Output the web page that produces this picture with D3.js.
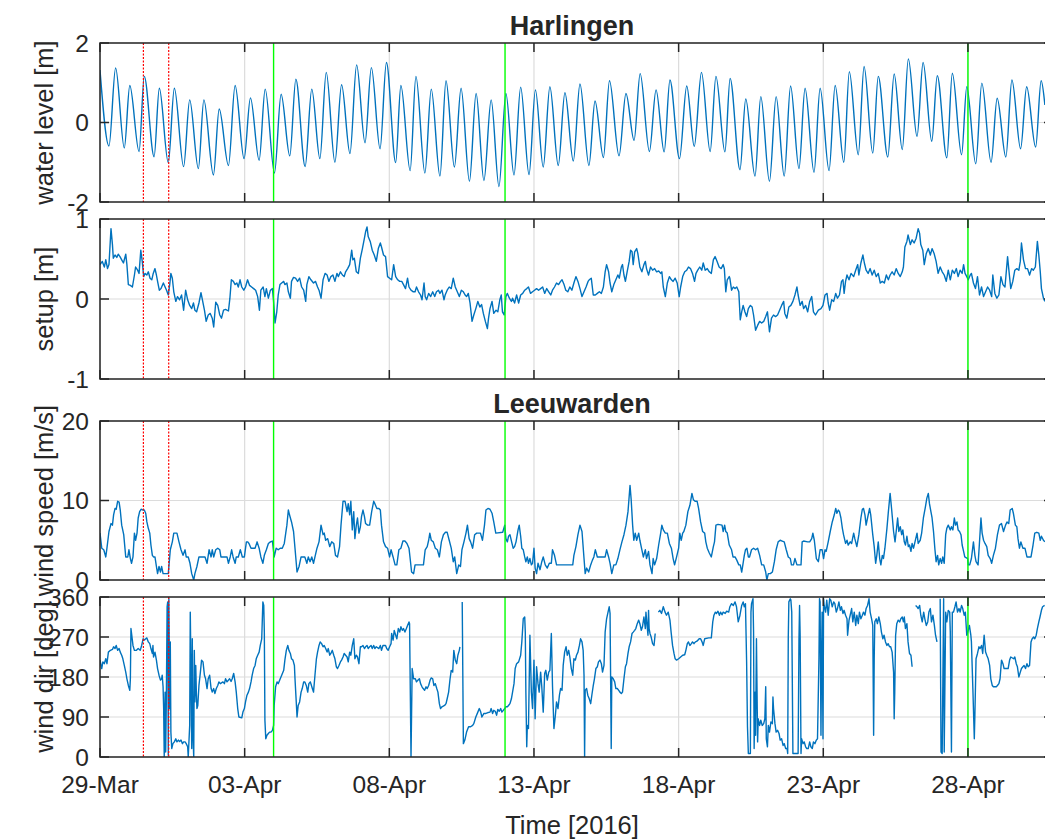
<!DOCTYPE html>
<html>
<head>
<meta charset="utf-8">
<script src="https://cdn.jsdelivr.net/npm/d3@7"></script>
<style>
  html, body { margin: 0; padding: 0; background: #fff; }
  svg { display: block; }
  text { font-family: "Liberation Sans", Arial, Helvetica, sans-serif; fill: #262626; }
</style>
</head>
<body>
<div id="chart"></div>
<script>
// ---- data (days since 29-Mar-2016 00:00 UTC, value) ----
// water level extremes at Harlingen [m]
var waterLevel = [[0.00,1.32],[0.31,-0.59],[0.54,1.37],[0.84,-0.64],[1.03,0.93],[1.35,-0.73],[1.53,1.16],[1.87,-0.86],[2.05,0.86],[2.36,-1.01],[2.57,0.86],[2.89,-1.11],[3.10,0.57],[3.40,-1.16],[3.59,0.57],[3.92,-1.32],[4.12,0.34],[4.44,-1.08],[4.67,0.93],[4.98,-0.91],[5.20,0.62],[5.50,-0.95],[5.71,0.84],[6.03,-1.27],[6.26,0.71],[6.56,-0.84],[6.77,1.09],[7.09,-1.11],[7.32,0.84],[7.60,-0.91],[7.82,1.26],[8.12,-1.00],[8.35,0.95],[8.64,-0.78],[8.87,1.45],[9.16,-0.51],[9.38,1.38],[9.68,-0.66],[9.90,1.51],[10.22,-1.01],[10.40,0.93],[10.72,-1.21],
  [10.92,1.16],[11.23,-1.27],[11.45,0.84],[11.75,-1.35],[11.96,1.05],[12.25,-1.12],[12.48,0.86],[12.77,-1.48],[13.00,0.73],[13.27,-1.46],[13.52,0.57],[13.79,-1.61],[14.03,0.73],[14.31,-1.32],[14.54,0.89],[14.83,-1.31],[15.05,0.82],[15.32,-1.12],[15.55,0.90],[15.84,-1.08],[16.07,0.75],[16.36,-0.97],[16.59,0.97],[16.90,-1.08],[17.11,0.54],[17.40,-0.88],[17.61,1.05],[17.94,-0.84],[18.18,0.73],[18.46,-0.45],[18.67,1.23],[18.99,-0.73],[19.22,0.82],[19.50,-0.74],[19.70,1.07],[20.03,-0.91],[20.28,0.92],[20.54,-0.60],[20.79,1.26],[21.09,-0.73],[21.29,1.16],[21.60,-0.74],
  [21.78,1.11],[22.12,-1.19],[22.32,0.59],[22.64,-1.35],[22.84,0.65],[23.14,-1.48],[23.37,0.65],[23.65,-1.35],[23.87,0.92],[24.16,-1.16],[24.37,0.86],[24.68,-1.25],[24.89,0.86],[25.20,-1.21],[25.41,0.93],[25.71,-1.00],[25.90,1.28],[26.21,-0.81],[26.41,1.41],[26.71,-0.77],[26.90,1.16],[27.23,-0.87],[27.45,1.22],[27.73,-0.68],[27.94,1.60],[28.24,-0.35],[28.45,1.51],[28.75,-0.47],[28.94,1.18],[29.27,-0.89],[29.46,1.24],[29.78,-0.81],[29.96,0.90],[30.27,-1.04],[30.48,0.99],[30.80,-1.00],[31.01,0.61],[31.31,-0.87],[31.52,1.07],[31.82,-0.66],[32.03,0.90],[32.34,-0.62],[32.53,1.05],[32.66,0.44]];

// setup at Harlingen [m]
var setup = [[0.00,0.43],[0.08,0.47],[0.15,0.40],[0.20,0.49],[0.26,0.38],[0.31,0.43],[0.38,0.88],[0.43,0.68],[0.46,0.51],[0.52,0.55],[0.58,0.52],[0.63,0.56],[0.69,0.53],[0.75,0.49],[0.81,0.45],[0.89,0.56],[0.93,0.43],[0.98,0.18],[1.05,0.17],[1.12,0.15],[1.19,0.30],[1.23,0.40],[1.30,0.36],[1.35,0.32],[1.41,0.61],[1.46,0.47],[1.51,0.28],[1.56,0.32],[1.62,0.30],[1.67,0.34],[1.73,0.26],[1.79,0.24],[1.84,0.32],[1.90,0.38],[1.95,0.30],[1.99,0.22],[2.05,0.11],[2.11,0.13],[2.19,0.20],[2.25,0.15],[2.30,0.11],[2.36,0.05],[2.41,0.18],[2.45,0.32],[2.50,0.26],[2.55,0.09],[2.62,-0.03],[2.68,0.03],[2.75,-0.01],[2.82,0.05],[2.89,-0.14],[2.96,0.11],[3.03,-0.01],[3.10,-0.08],[3.17,-0.12],[3.23,-0.05],[3.28,-0.14],[3.34,-0.16],[3.42,-0.05],[3.49,0.08],[3.54,-0.01],[3.61,-0.14],[3.67,-0.28],[3.74,-0.20],[3.81,-0.18],[3.88,-0.24],[3.93,-0.35],[4.00,-0.04],[4.07,-0.08],[4.14,-0.20],[4.20,-0.24],[4.27,-0.14],[4.34,-0.13],[4.44,-0.15],[4.49,0.01],[4.54,0.24],[4.61,0.22],[4.67,0.18],[4.73,0.20],[4.78,0.15],[4.84,0.24],[4.90,0.15],[4.97,0.11],[5.03,0.15],[5.10,0.24],[5.17,0.17],[5.24,0.15],[5.31,0.13],[5.38,0.11],[5.45,0.03],[5.51,-0.14],[5.56,0.11],[5.64,0.15],[5.70,0.03],[5.75,0.13],[5.82,0.01],[5.89,0.11],[5.96,0.13],[6.00,-0.03],[6.05,-0.30],[6.11,-0.16],[6.16,0.05],[6.22,0.18],[6.28,0.20],[6.35,0.22],[6.39,0.18],[6.46,0.20],[6.51,0.09],[6.58,0.01],[6.62,0.22],[6.69,0.27],[6.76,0.26],[6.83,0.22],[6.90,0.26],[6.97,0.15],[7.04,0.11],[7.11,-0.03],[7.15,0.18],[7.22,0.28],[7.29,0.24],[7.38,0.20],[7.45,0.22],[7.52,0.15],[7.57,0.11],[7.64,0.01],[7.71,0.24],[7.78,0.32],[7.85,0.30],[7.91,0.22],[7.98,0.28],[8.05,0.30],[8.12,0.22],[8.19,0.32],[8.24,0.28],[8.31,0.34],[8.38,0.30],[8.44,0.28],[8.49,0.34],[8.56,0.38],[8.63,0.43],[8.70,0.61],[8.74,0.49],[8.79,0.51],[8.86,0.34],[8.93,0.32],[9.00,0.51],[9.07,0.63],[9.14,0.76],[9.18,0.84],[9.23,0.90],[9.27,0.78],[9.34,0.72],[9.41,0.61],[9.48,0.55],[9.55,0.47],[9.62,0.63],[9.69,0.70],[9.73,0.65],[9.80,0.55],[9.87,0.53],[9.94,0.28],[10.01,0.26],[10.08,0.24],[10.15,0.43],[10.22,0.28],[10.29,0.24],[10.36,0.22],[10.43,0.22],[10.49,0.18],[10.56,0.13],[10.63,0.26],[10.68,0.15],[10.75,0.11],[10.83,0.09],
  [10.89,0.09],[10.94,0.15],[11.01,0.09],[11.08,0.05],[11.13,-0.01],[11.20,0.20],[11.24,0.03],[11.29,-0.01],[11.36,0.07],[11.43,0.03],[11.50,0.09],[11.57,0.03],[11.63,0.09],[11.70,0.11],[11.75,0.07],[11.82,0.11],[11.89,-0.01],[11.93,0.05],[12.00,0.11],[12.07,0.15],[12.14,0.13],[12.21,0.26],[12.28,0.15],[12.35,0.09],[12.42,0.03],[12.49,0.11],[12.56,0.09],[12.62,0.05],[12.67,0.03],[12.73,0.07],[12.79,-0.05],[12.86,-0.28],[12.92,-0.20],[12.99,-0.12],[13.06,-0.03],[13.13,-0.10],[13.19,-0.07],[13.25,-0.18],[13.32,-0.28],[13.39,-0.37],[13.43,-0.24],[13.48,-0.12],[13.55,-0.03],[13.61,-0.18],[13.69,-0.14],[13.75,-0.16],[13.82,-0.01],[13.87,0.05],[13.91,-0.16],[13.97,-0.20],[14.03,0.03],[14.08,0.07],[14.15,0.01],[14.22,-0.03],[14.26,0.01],[14.33,-0.05],[14.40,0.05],[14.47,-0.05],[14.54,0.05],[14.61,0.07],[14.68,0.11],[14.75,0.13],[14.81,0.15],[14.88,0.07],[14.95,0.09],[15.02,0.11],[15.09,0.13],[15.16,0.11],[15.23,0.13],[15.30,0.15],[15.37,0.07],[15.44,0.13],[15.51,0.09],[15.58,0.05],[15.64,0.11],[15.71,0.15],[15.78,0.20],[15.85,0.18],[15.92,0.22],[15.97,0.24],[16.04,0.18],[16.10,0.11],[16.17,0.09],[16.24,0.15],[16.31,0.11],[16.38,0.20],[16.45,0.28],[16.52,0.22],[16.59,0.13],[16.66,0.03],[16.73,0.09],[16.80,0.15],[16.87,0.22],[16.91,0.24],[16.98,0.26],[17.05,0.05],[17.12,0.05],[17.19,0.07],[17.26,0.09],[17.33,0.07],[17.40,0.15],[17.46,0.34],[17.51,0.43],[17.58,0.34],[17.63,0.20],[17.69,0.09],[17.76,0.18],[17.83,0.24],[17.90,0.30],[17.95,0.26],[18.02,0.40],[18.06,0.43],[18.11,0.30],[18.16,0.22],[18.22,0.34],[18.29,0.47],[18.34,0.61],[18.39,0.59],[18.43,0.43],[18.48,0.59],[18.55,0.63],[18.59,0.57],[18.66,0.40],[18.73,0.34],[18.80,0.43],[18.85,0.47],[18.89,0.38],[18.96,0.30],[19.03,0.40],[19.10,0.36],[19.17,0.38],[19.24,0.34],[19.31,0.35],[19.38,0.32],[19.42,0.34],[19.47,0.15],[19.54,0.03],[19.61,0.20],[19.68,0.28],[19.75,0.24],[19.81,0.22],[19.88,0.26],[19.95,0.20],[20.02,0.03],[20.07,0.15],[20.14,0.28],[20.21,0.34],[20.28,0.36],[20.34,0.40],[20.41,0.38],[20.48,0.32],[20.55,0.22],[20.60,0.32],[20.66,0.36],[20.73,0.40],[20.80,0.36],[20.85,0.45],[20.92,0.36],[20.99,0.38],[21.06,0.34],[21.13,0.32],[21.20,0.49],[21.26,0.53],[21.33,0.47],[21.40,0.40],[21.47,0.38],[21.54,0.43],[21.58,0.38],[21.63,0.09],[21.68,0.24],[21.75,0.28],
  [21.77,0.26],[21.83,0.11],[21.89,0.15],[21.95,0.13],[22.01,0.15],[22.08,0.09],[22.13,-0.26],[22.18,-0.16],[22.23,-0.08],[22.29,-0.16],[22.35,-0.22],[22.41,-0.12],[22.48,-0.08],[22.54,-0.10],[22.59,-0.20],[22.66,-0.39],[22.73,-0.33],[22.80,-0.28],[22.87,-0.30],[22.94,-0.28],[23.01,-0.22],[23.07,-0.16],[23.14,-0.41],[23.21,-0.24],[23.28,-0.20],[23.35,-0.22],[23.42,-0.20],[23.49,-0.14],[23.56,-0.08],[23.63,-0.03],[23.67,-0.18],[23.74,-0.24],[23.81,-0.10],[23.88,-0.08],[23.95,-0.03],[24.02,0.05],[24.09,0.15],[24.13,0.05],[24.20,-0.08],[24.27,-0.03],[24.32,-0.12],[24.39,-0.08],[24.46,-0.16],[24.53,-0.03],[24.60,0.03],[24.66,-0.16],[24.73,-0.20],[24.83,-0.14],[24.92,-0.12],[24.99,-0.08],[25.06,0.05],[25.13,0.07],[25.17,-0.05],[25.22,-0.14],[25.29,-0.01],[25.36,-0.03],[25.43,0.07],[25.49,0.01],[25.56,0.05],[25.63,0.22],[25.68,0.24],[25.72,0.07],[25.77,0.22],[25.82,0.30],[25.89,0.24],[25.96,0.32],[26.05,0.28],[26.12,0.36],[26.19,0.43],[26.23,0.30],[26.30,0.45],[26.37,0.55],[26.42,0.45],[26.48,0.36],[26.55,0.32],[26.62,0.38],[26.69,0.30],[26.76,0.36],[26.83,0.28],[26.90,0.32],[26.97,0.20],[27.04,0.22],[27.11,0.20],[27.18,0.30],[27.25,0.24],[27.31,0.30],[27.38,0.34],[27.45,0.30],[27.52,0.38],[27.59,0.32],[27.66,0.28],[27.73,0.34],[27.77,0.40],[27.82,0.65],[27.89,0.72],[27.93,0.80],[28.01,0.68],[28.07,0.74],[28.14,0.70],[28.21,0.76],[28.28,0.88],[28.33,0.82],[28.37,0.68],[28.44,0.61],[28.49,0.43],[28.56,0.57],[28.63,0.63],[28.70,0.55],[28.76,0.63],[28.83,0.57],[28.90,0.47],[28.97,0.32],[29.04,0.40],[29.11,0.34],[29.18,0.30],[29.25,0.22],[29.32,0.36],[29.39,0.24],[29.46,0.36],[29.53,0.32],[29.60,0.38],[29.66,0.28],[29.73,0.36],[29.80,0.32],[29.85,0.43],[29.90,0.32],[29.96,0.28],[30.01,0.24],[30.08,0.30],[30.12,0.32],[30.19,0.20],[30.26,0.13],[30.33,0.28],[30.40,0.05],[30.47,0.15],[30.54,0.03],[30.61,0.09],[30.68,0.15],[30.75,0.11],[30.82,0.03],[30.86,0.30],[30.93,0.07],[31.00,0.01],[31.07,0.05],[31.14,0.28],[31.21,0.18],[31.28,0.15],[31.37,0.53],[31.41,0.38],[31.48,0.13],[31.55,0.22],[31.62,0.36],[31.69,0.38],[31.76,0.36],[31.81,0.47],[31.85,0.70],[31.92,0.49],[31.99,0.38],[32.06,0.38],[32.13,0.30],[32.20,0.38],[32.26,0.36],[32.33,0.40],[32.40,0.72],[32.45,0.55],[32.50,0.34],[32.54,0.13],[32.61,0.01],[32.66,-0.03]];

// wind speed at Leeuwarden [m/s]
var windSpeed = [[0.00,5.9],[0.06,4.0],[0.13,3.8],[0.20,2.9],[0.24,4.0],[0.31,6.1],[0.38,7.1],[0.43,6.9],[0.47,8.2],[0.52,9.0],[0.56,8.9],[0.61,9.9],[0.66,9.8],[0.70,8.8],[0.75,6.9],[0.82,5.7],[0.89,2.9],[0.96,2.9],[1.00,3.8],[1.05,2.7],[1.09,2.1],[1.14,2.9],[1.19,5.9],[1.23,5.0],[1.28,5.9],[1.32,7.8],[1.37,8.6],[1.42,8.9],[1.49,8.8],[1.53,8.8],[1.58,8.4],[1.62,7.3],[1.67,6.5],[1.72,5.9],[1.76,4.4],[1.81,3.1],[1.85,2.9],[1.90,2.9],[1.95,1.7],[1.99,0.8],[2.04,1.7],[2.09,1.0],[2.13,1.7],[2.18,0.8],[2.32,0.8],[2.36,0.8],[2.43,3.8],[2.50,4.8],[2.55,5.9],[2.66,5.9],[2.73,4.8],[2.80,3.8],[2.87,3.1],[2.94,3.8],[2.98,2.9],[3.05,2.9],[3.11,2.1],[3.17,0.8],[3.24,0.0],[3.28,0.8],[3.35,1.7],[3.42,2.9],[3.63,2.9],[3.70,2.1],[3.77,3.8],[3.84,2.9],[3.88,3.8],[3.93,2.9],[4.00,3.8],[4.07,4.0],[4.14,3.8],[4.18,2.9],[4.39,2.9],[4.44,2.1],[4.50,2.9],[4.55,3.8],[4.60,2.9],[4.67,2.1],[4.71,2.9],[4.78,2.9],[4.85,3.8],[4.92,2.9],[4.99,2.9],[5.06,4.8],[5.10,4.8],[5.15,4.6],[5.22,4.0],[5.36,4.0],[5.43,4.8],[5.50,4.0],[5.56,2.9],[5.63,2.1],[5.68,3.1],[5.75,3.8],[5.82,4.6],[5.89,4.8],[5.96,4.9],[6.02,2.9],[6.09,4.0],[6.16,3.8],[6.23,4.0],[6.30,4.0],[6.37,4.6],[6.42,5.9],[6.46,6.9],[6.51,8.8],[6.55,8.2],[6.62,7.3],[6.69,6.1],[6.74,4.0],[6.81,1.0],[6.88,1.7],[6.95,2.9],[7.08,2.9],[7.15,2.1],[7.20,2.9],[7.26,2.3],[7.32,2.9],[7.38,2.1],[7.43,2.9],[7.50,4.0],[7.57,4.8],[7.64,6.9],[7.71,5.7],[7.75,5.9],[7.80,5.0],[7.87,5.2],[7.94,4.2],[8.01,4.8],[8.08,4.6],[8.14,3.1],[8.21,2.9],[8.28,4.2],[8.33,6.9],[8.40,9.9],[8.47,9.9],[8.54,8.6],[8.58,9.6],[8.63,8.2],[8.67,9.9],[8.72,6.3],[8.77,8.6],[8.81,5.2],[8.86,6.9],[8.90,7.8],[8.95,5.9],[9.00,6.7],[9.04,8.0],[9.09,8.8],[9.14,8.0],[9.18,7.1],[9.25,6.9],[9.32,6.9],[9.39,8.6],[9.46,9.9],[9.50,9.6],[9.57,9.0],[9.64,9.0],[9.69,8.8],[9.73,6.9],[9.80,4.8],[9.87,4.2],[9.94,4.0],[10.01,2.9],[10.06,3.8],[10.13,2.9],[10.20,1.9],[10.26,1.9],[10.33,3.8],[10.40,4.0],[10.47,4.9],[10.54,4.9],[10.61,4.6],[10.68,4.0],[10.72,2.7],[10.77,1.0],[10.84,0.8],
  [10.89,1.9],[11.18,1.9],[11.24,3.8],[11.31,4.2],[11.36,5.0],[11.40,5.9],[11.45,5.0],[11.52,4.8],[11.59,4.0],[11.66,3.8],[11.73,2.9],[11.80,4.8],[11.87,5.7],[11.94,6.0],[12.00,6.0],[12.07,5.0],[12.14,4.0],[12.21,2.3],[12.26,2.9],[12.33,0.8],[12.40,1.9],[12.46,1.7],[12.51,3.8],[12.58,4.8],[12.65,5.9],[12.70,6.9],[12.76,5.2],[12.81,4.8],[12.88,4.0],[12.95,5.7],[13.02,5.9],[13.15,5.9],[13.22,5.0],[13.29,6.9],[13.34,8.8],[13.41,9.0],[13.48,8.9],[13.55,8.4],[13.61,7.3],[13.68,5.9],[13.92,6.0],[13.99,6.9],[14.03,5.2],[14.08,4.8],[14.12,5.5],[14.17,5.7],[14.24,4.6],[14.28,4.0],[14.33,4.2],[14.38,4.8],[14.45,6.3],[14.49,6.9],[14.54,5.5],[14.58,4.0],[14.63,3.8],[14.68,2.9],[14.72,2.3],[14.77,2.9],[14.81,2.1],[14.86,2.7],[14.91,1.9],[14.95,2.1],[15.00,4.0],[15.04,1.5],[15.09,0.8],[15.14,2.1],[15.21,1.3],[15.27,2.3],[15.32,2.9],[15.39,1.9],[15.46,1.5],[15.53,2.1],[15.60,2.1],[15.64,3.8],[15.71,3.1],[15.78,1.9],[16.34,1.9],[16.38,3.1],[16.45,4.2],[16.52,5.7],[16.59,6.9],[16.66,6.1],[16.73,2.7],[16.77,0.8],[16.82,1.5],[16.89,1.0],[16.96,1.9],[17.02,2.5],[17.07,2.9],[17.12,3.8],[17.19,2.9],[17.46,2.9],[17.51,3.8],[17.58,2.9],[17.63,2.1],[17.69,0.8],[17.76,1.9],[17.83,1.9],[17.90,2.7],[17.97,3.8],[18.04,4.8],[18.11,5.7],[18.18,6.9],[18.25,8.6],[18.32,11.9],[18.36,10.1],[18.41,6.9],[18.45,5.0],[18.50,5.9],[18.55,5.0],[18.62,5.9],[18.66,5.0],[18.73,3.8],[18.78,2.9],[18.85,3.8],[18.89,2.7],[18.96,3.6],[19.01,1.9],[19.08,0.8],[19.12,2.7],[19.17,1.9],[19.24,2.7],[19.31,4.4],[19.38,5.9],[19.42,6.9],[19.47,6.3],[19.54,5.9],[19.61,5.9],[19.68,4.6],[19.75,4.0],[19.81,2.7],[19.86,1.9],[19.93,2.9],[20.00,4.0],[20.04,5.9],[20.09,5.0],[20.14,5.9],[20.18,6.1],[20.25,6.9],[20.32,8.6],[20.39,9.4],[20.46,10.9],[20.51,10.1],[20.57,9.9],[20.64,9.9],[20.69,9.0],[20.76,7.3],[20.83,6.1],[20.90,5.9],[20.94,4.8],[20.99,4.0],[21.06,3.4],[21.13,2.9],[21.20,4.2],[21.24,4.8],[21.29,6.9],[21.36,7.0],[21.50,6.9],[21.54,6.1],[21.59,6.9],[21.63,6.1],[21.68,5.9],[21.75,4.4],
  [21.83,3.8],[21.88,2.9],[21.95,2.9],[22.01,2.5],[22.08,1.9],[22.13,1.9],[22.18,1.0],[22.22,1.9],[22.27,3.1],[22.31,3.8],[22.36,4.0],[22.41,2.9],[22.45,2.9],[22.52,3.8],[22.59,4.0],[22.66,3.8],[22.73,4.0],[22.80,3.1],[22.87,1.9],[22.94,1.9],[23.01,1.0],[23.05,0.0],[23.10,0.8],[23.17,0.8],[23.24,1.0],[23.31,2.3],[23.37,3.8],[23.44,4.8],[23.51,5.0],[23.58,4.9],[23.65,4.8],[23.72,3.8],[23.79,2.9],[23.86,2.7],[23.90,1.9],[23.97,1.9],[24.02,2.7],[24.09,1.9],[24.23,1.9],[24.27,4.8],[24.32,4.9],[24.46,4.8],[24.53,4.8],[24.60,5.2],[24.64,5.9],[24.69,5.0],[24.76,2.7],[24.83,2.3],[24.89,3.8],[24.96,3.8],[25.01,2.7],[25.06,3.8],[25.10,3.6],[25.17,4.8],[25.24,6.1],[25.31,7.3],[25.38,8.2],[25.43,9.0],[25.47,8.4],[25.52,8.8],[25.56,8.6],[25.61,7.8],[25.66,6.5],[25.70,5.7],[25.77,4.6],[25.82,5.0],[25.86,4.4],[25.93,4.8],[25.98,4.6],[26.05,5.9],[26.09,5.2],[26.16,4.2],[26.23,5.7],[26.30,7.8],[26.35,8.9],[26.39,9.0],[26.44,8.2],[26.48,6.9],[26.53,7.8],[26.60,9.0],[26.64,8.2],[26.71,5.7],[26.76,4.2],[26.81,2.1],[26.85,3.1],[26.90,4.8],[26.95,2.7],[26.99,1.9],[27.04,3.1],[27.08,2.7],[27.13,4.0],[27.20,6.5],[27.25,8.6],[27.31,10.9],[27.36,9.0],[27.43,6.1],[27.48,4.8],[27.52,6.1],[27.57,7.8],[27.61,6.1],[27.66,6.7],[27.71,5.7],[27.75,6.3],[27.80,4.8],[27.84,4.4],[27.89,5.5],[27.94,4.2],[27.98,4.4],[28.03,3.6],[28.07,4.6],[28.12,4.0],[28.17,4.8],[28.24,5.9],[28.28,4.6],[28.35,5.0],[28.40,5.9],[28.46,7.8],[28.53,9.2],[28.58,10.3],[28.63,10.9],[28.67,9.6],[28.72,8.6],[28.76,7.8],[28.81,6.1],[28.86,3.8],[28.90,2.3],[28.95,3.1],[28.99,1.9],[29.04,2.7],[29.09,2.1],[29.13,2.9],[29.18,2.1],[29.23,5.7],[29.27,6.5],[29.32,6.9],[29.39,6.3],[29.43,6.7],[29.48,6.3],[29.53,7.8],[29.57,6.9],[29.62,7.3],[29.66,6.3],[29.71,6.1],[29.76,5.7],[29.80,4.4],[29.85,3.6],[29.89,2.9],[29.99,2.7],[30.01,1.9],[30.06,1.9],[30.12,2.7],[30.19,4.8],[30.24,3.1],[30.28,2.3],[30.35,1.9],[30.40,4.8],[30.45,7.8],[30.49,5.9],[30.54,5.0],[30.59,4.6],[30.65,4.2],[30.70,3.1],[30.77,2.7],[30.82,2.1],[30.88,3.1],[30.95,4.0],[31.02,5.7],[31.09,6.9],[31.16,7.1],[31.23,6.1],[31.30,6.9],[31.35,7.3],[31.41,7.1],[31.46,8.8],[31.53,9.0],[31.57,8.4],[31.64,6.9],[31.69,6.7],[31.73,5.2],[31.78,4.0],[31.83,4.8],[31.90,4.0],[31.97,4.0],[32.04,2.9],[32.18,2.9],[32.25,4.4],[32.31,5.9],[32.38,6.0],[32.45,5.9],[32.50,5.0],[32.54,5.5],[32.61,5.0],[32.66,4.8]];

// wind direction at Leeuwarden [deg], null = gap in record
var windDir = [[0.00,218],[0.06,199],[0.10,214],[0.15,210],[0.20,221],[0.24,210],[0.29,236],[0.36,240],[0.43,242],[0.47,248],[0.52,244],[0.56,251],[0.61,240],[0.66,244],[0.70,236],[0.75,229],[0.79,221],[0.84,206],[0.89,191],[0.93,176],[0.98,161],[1.03,150],[1.05,176],[1.07,289],[1.09,278],[1.14,251],[1.19,240],[1.26,240],[1.32,244],[1.39,240],[1.44,251],[1.49,266],[1.53,263],[1.58,266],[1.62,268],[1.67,259],[1.72,255],[1.76,244],[1.81,233],[1.83,251],[1.85,225],[1.90,236],[1.95,218],[1.99,199],[2.04,184],[2.09,173],[2.13,176],[2.15,184],[2.18,158],[2.20,109],[2.22,0],[2.25,146],[2.27,11],[2.29,109],[2.32,338],[2.34,349],[2.36,4],[2.38,356],[2.41,109],[2.43,259],[2.45,56],[2.48,19],[2.52,30],[2.57,34],[2.62,41],[2.66,34],[2.71,38],[2.75,35],[2.80,38],[2.85,30],[2.89,34],[2.94,34],[2.98,30],[3.03,23],[3.05,0],[3.10,71],[3.12,326],[3.14,221],[3.17,19],[3.19,266],[3.21,56],[3.24,0],[3.26,240],[3.28,124],[3.31,206],[3.33,146],[3.35,109],[3.38,116],[3.42,161],[3.47,191],[3.51,218],[3.56,214],[3.61,184],[3.65,176],[3.70,154],[3.74,176],[3.79,184],[3.84,154],[3.88,146],[3.93,154],[3.97,143],[4.02,154],[4.07,161],[4.11,169],[4.16,165],[4.25,169],[4.30,165],[4.34,176],[4.39,169],[4.48,176],[4.53,170],[4.57,176],[4.62,188],[4.67,169],[4.71,146],[4.76,109],[4.80,90],[4.90,88],[4.94,101],[4.99,109],[5.03,124],[5.08,139],[5.13,146],[5.17,154],[5.22,169],[5.26,184],[5.31,199],[5.36,206],[5.40,221],[5.45,229],[5.50,236],[5.54,251],[5.59,266],[5.63,349],[5.66,341],[5.68,281],[5.70,83],[5.73,41],[5.77,49],[5.82,53],[5.86,56],[5.91,56],[5.96,60],[6.00,71],[6.02,116],[6.07,158],[6.12,169],[6.16,165],[6.23,176],[6.28,184],[6.35,195],[6.39,218],[6.44,240],[6.49,251],[6.53,240],[6.58,233],[6.62,221],[6.67,218],[6.72,206],[6.74,176],[6.79,116],[6.81,90],[6.85,116],[6.90,124],[6.95,146],[6.99,154],[7.04,169],[7.08,169],[7.13,161],[7.18,146],[7.22,165],[7.27,169],[7.34,154],[7.38,146],[7.43,184],[7.48,221],[7.52,236],[7.57,251],[7.61,259],[7.66,255],[7.71,248],[7.75,251],[7.80,244],[7.85,236],[7.89,244],[7.94,229],[7.98,233],[8.03,240],[8.08,229],[8.12,221],[8.17,203],[8.21,199],[8.26,206],[8.31,214],[8.35,218],[8.40,225],[8.44,233],[8.49,229],[8.54,225],[8.58,214],[8.63,236],[8.67,229],[8.72,251],[8.77,266],[8.81,221],[8.86,229],[8.90,225],[8.95,210],[9.00,248],[9.04,248],[9.09,251],[9.14,244],[9.18,248],[9.23,251],[9.27,244],[9.32,248],[9.37,251],[9.41,244],[9.46,251],[9.50,244],[9.55,248],[9.64,244],[9.69,251],[9.73,240],[9.78,251],[9.87,251],[9.91,244],[9.96,240],[10.01,248],[10.06,255],[10.08,278],[10.13,263],[10.17,285],[10.22,274],[10.26,266],[10.31,289],[10.36,281],[10.40,293],[10.45,285],[10.49,289],[10.54,281],[10.59,289],[10.63,296],[10.68,304],[10.70,300],[10.75,0],[10.79,199],[10.84,176],
  [10.90,176],[10.94,169],[10.99,173],[11.04,176],[11.08,165],[11.13,158],[11.17,154],[11.22,150],[11.27,158],[11.31,154],[11.36,161],[11.41,173],[11.45,178],[11.50,176],[11.54,161],[11.59,165],[11.64,154],[11.68,146],[11.73,120],[11.77,109],[11.82,113],[11.91,116],[11.96,120],[12.00,131],[12.05,146],[12.10,176],[12.14,195],[12.19,191],[12.23,240],[12.28,218],[12.33,210],[12.37,229],[12.42,240],[12.44,248],[12.48,null],[12.52,349],[12.56,30],[12.61,38],[12.67,56],[12.74,68],[12.81,68],[12.88,71],[12.92,75],[12.99,90],[13.06,101],[13.11,109],[13.16,101],[13.20,90],[13.27,98],[13.34,98],[13.41,100],[13.48,101],[13.52,109],[13.57,98],[13.61,105],[13.66,103],[13.71,94],[13.75,107],[13.80,103],[13.85,109],[13.89,101],[13.94,105],[13.99,109],[14.03,113],[14.08,113],[14.12,116],[14.17,120],[14.22,131],[14.26,146],[14.31,165],[14.35,199],[14.40,210],[14.47,214],[14.54,229],[14.58,259],[14.63,311],[14.68,315],[14.70,281],[14.72,146],[14.75,23],[14.77,71],[14.81,64],[14.86,274],[14.91,146],[14.95,109],[15.00,218],[15.04,86],[15.09,203],[15.14,165],[15.18,146],[15.23,191],[15.27,158],[15.32,101],[15.37,188],[15.41,195],[15.46,173],[15.51,191],[15.55,195],[15.60,278],[15.62,221],[15.64,161],[15.69,64],[15.74,94],[15.78,124],[15.83,109],[15.88,139],[15.92,154],[15.97,150],[16.01,206],[16.06,236],[16.11,248],[16.15,229],[16.20,240],[16.24,225],[16.29,199],[16.34,184],[16.38,221],[16.43,218],[16.47,229],[16.52,236],[16.57,251],[16.61,266],[16.66,259],[16.70,240],[16.73,184],[16.75,0],[16.77,150],[16.82,154],[16.86,139],[16.91,131],[16.96,120],[17.00,139],[17.05,161],[17.09,176],[17.14,199],[17.19,203],[17.23,214],[17.28,218],[17.33,210],[17.37,191],[17.42,206],[17.46,281],[17.51,311],[17.56,326],[17.60,338],[17.63,323],[17.67,19],[17.69,180],[17.74,176],[17.79,169],[17.83,154],[17.88,154],[17.93,150],[17.97,146],[18.02,143],[18.06,146],[18.11,176],[18.16,203],[18.20,210],[18.25,233],[18.29,248],[18.34,259],[18.39,278],[18.43,281],[18.48,285],[18.52,289],[18.57,300],[18.62,308],[18.66,300],[18.71,285],[18.75,293],[18.80,315],[18.85,289],[18.87,326],[18.91,296],[18.94,274],[18.96,330],[18.98,289],[19.01,278],[19.05,270],[19.10,255],[19.15,251],[19.19,278],[19.25,null],[19.30,326],[19.35,330],[19.41,323],[19.47,338],[19.53,326],[19.58,319],[19.64,326],[19.70,308],[19.74,281],[19.79,251],[19.84,233],[19.88,221],[19.93,218],[20.00,221],[20.07,225],[20.14,229],[20.21,230],[20.25,240],[20.30,255],[20.34,259],[20.39,251],[20.44,255],[20.48,259],[20.53,255],[20.58,259],[20.62,260],[20.67,263],[20.71,266],[20.76,266],[20.81,259],[20.85,251],[20.90,266],[21.04,268],[21.13,268],[21.18,304],[21.22,319],[21.27,326],[21.31,323],[21.36,328],[21.41,319],[21.45,326],[21.50,320],[21.54,326],[21.61,323],[21.66,328],[21.73,326],
  [21.77,338],[21.83,345],[21.89,341],[21.95,349],[22.00,338],[22.06,304],[22.12,319],[22.18,341],[22.23,349],[22.27,338],[22.31,345],[22.35,214],[22.38,68],[22.41,8],[22.48,8],[22.50,326],[22.52,345],[22.57,356],[22.59,281],[22.61,19],[22.64,146],[22.66,49],[22.69,266],[22.73,34],[22.75,86],[22.80,71],[22.84,83],[22.89,71],[22.94,75],[22.98,86],[23.01,158],[23.03,41],[23.07,23],[23.10,71],[23.14,56],[23.19,79],[23.24,75],[23.26,135],[23.28,109],[23.33,75],[23.37,56],[23.42,60],[23.47,53],[23.51,38],[23.56,41],[23.61,26],[23.65,30],[23.70,19],[23.75,19],[23.77,8],[23.79,270],[23.81,349],[23.86,356],[23.88,353],[23.91,326],[23.95,8],[24.13,8],[24.16,266],[24.18,341],[24.20,274],[24.23,8],[24.25,41],[24.30,30],[24.34,34],[24.39,23],[24.43,19],[24.48,19],[24.53,34],[24.57,23],[24.62,19],[24.66,34],[24.71,30],[24.76,38],[24.80,41],[24.85,221],[24.87,356],[24.89,349],[24.92,49],[24.94,221],[24.96,326],[24.99,41],[25.01,356],[25.03,341],[25.08,326],[25.12,353],[25.17,319],[25.22,356],[25.26,353],[25.31,338],[25.36,349],[25.40,345],[25.45,326],[25.49,334],[25.54,349],[25.59,330],[25.63,338],[25.68,323],[25.72,330],[25.77,319],[25.82,311],[25.84,274],[25.89,308],[25.93,319],[25.98,334],[26.02,304],[26.07,326],[26.12,296],[26.16,319],[26.21,300],[26.25,326],[26.30,311],[26.35,319],[26.39,326],[26.44,319],[26.48,334],[26.53,341],[26.58,356],[26.62,326],[26.67,311],[26.71,296],[26.74,49],[26.76,221],[26.78,304],[26.83,311],[26.87,300],[26.92,315],[26.97,300],[27.01,281],[27.06,266],[27.10,274],[27.15,259],[27.20,251],[27.24,255],[27.29,248],[27.33,248],[27.38,236],[27.43,191],[27.45,86],[27.47,146],[27.50,274],[27.54,300],[27.59,308],[27.64,304],[27.68,311],[27.73,315],[27.77,304],[27.80,315],[27.84,289],[27.89,300],[27.93,259],[27.98,233],[28.03,229],[28.07,203],[28.13,null],[28.19,341],[28.24,338],[28.28,334],[28.33,341],[28.37,319],[28.42,304],[28.47,326],[28.51,311],[28.56,296],[28.61,304],[28.65,326],[28.70,334],[28.74,304],[28.79,319],[28.84,296],[28.88,274],[28.93,259],[28.98,null],[29.04,356],[29.07,11],[29.11,8],[29.16,356],[29.18,11],[29.23,326],[29.27,304],[29.32,330],[29.37,326],[29.39,281],[29.41,146],[29.43,11],[29.46,326],[29.50,326],[29.55,338],[29.59,349],[29.64,326],[29.69,334],[29.73,326],[29.78,341],[29.82,334],[29.87,319],[29.91,326],[29.96,274],[30.01,285],[30.05,296],[30.10,274],[30.12,259],[30.17,154],[30.22,41],[30.24,94],[30.28,221],[30.33,233],[30.38,248],[30.42,244],[30.47,251],[30.51,233],[30.56,274],[30.61,236],[30.65,229],[30.70,221],[30.75,206],[30.79,176],[30.84,161],[30.88,158],[30.98,158],[31.02,161],[31.07,165],[31.11,176],[31.16,218],[31.21,210],[31.25,199],[31.39,199],[31.44,218],[31.48,225],[31.58,221],[31.62,225],[31.67,210],[31.71,203],[31.76,180],[31.81,191],[31.85,199],[31.90,203],[31.94,206],[31.99,199],[32.04,210],[32.08,203],[32.13,206],[32.18,259],[32.22,266],[32.27,270],[32.31,266],[32.36,274],[32.40,289],[32.45,304],[32.49,315],[32.54,330],[32.58,338],[32.65,341]];

// event markers (days since start)
var redLines = [1.5, 2.375];
var greenLines = [6, 14, 30];

// axes
var xTickDates = ["2016-03-29", "2016-04-03", "2016-04-08", "2016-04-13", "2016-04-18", "2016-04-23", "2016-04-28"];
var wlTicks = [-2, 0, 2];
var setupTicks = [-1, 0, 1];
var speedTicks = [0, 10, 20];
var dirTicks = [0, 90, 180, 270, 360];

var width = 1045, height = 840;
var start = Date.UTC(2016, 2, 29);
var day = 864e5;
function toDate(d) { return new Date(start + d * day); }

var svg = d3.select("#chart").append("svg")
    .attr("width", width)
    .attr("height", height);

var x = d3.scaleUtc()
    .domain([toDate(0), toDate(32.94)])
    .range([100, 1053]);

var xTicks = xTickDates.map(function(s) { return new Date(s + "T00:00:00Z"); });
var fmt = d3.utcFormat("%d-%b");

var panels = [
    {data: waterLevel, domain: [-2, 2], ticks: wlTicks, top: 43, bottom: 202, label: "water level [m]", curve: d3.curveMonotoneX},
    {data: setup, domain: [-1, 1], ticks: setupTicks, top: 219, bottom: 379, label: "setup [m]", curve: d3.curveLinear},
    {data: windSpeed, domain: [0, 20], ticks: speedTicks, top: 421, bottom: 580, label: "wind speed [m/s]", curve: d3.curveLinear},
    {data: windDir, domain: [0, 360], ticks: dirTicks, top: 597, bottom: 757, label: "wind dir [deg]", curve: d3.curveLinear}
];

var axisColor = "#262626",
    gridColor = "#dcdcdc",
    lineColor = "#0072bd",
    tickLen = 9,
    tickFont = 24.5,
    labelFont = 25.5;

panels.forEach(function(p, i) {
    var y = d3.scaleLinear().domain(p.domain).range([p.bottom, p.top]);
    var g = svg.append("g");
    var x0 = x.range()[0], x1 = x.range()[1];

    g.append("clipPath").attr("id", "clip" + i)
        .append("rect")
        .attr("x", x0).attr("y", p.top)
        .attr("width", x1 - x0).attr("height", p.bottom - p.top);

    // grid
    g.selectAll(".vgrid").data(xTicks).enter().append("line")
        .attr("x1", function(d) { return x(d); })
        .attr("x2", function(d) { return x(d); })
        .attr("y1", p.top).attr("y2", p.bottom)
        .attr("stroke", gridColor).attr("stroke-width", 1.2);
    g.selectAll(".hgrid").data(p.ticks).enter().append("line")
        .attr("x1", x0).attr("x2", x1)
        .attr("y1", function(d) { return y(d); })
        .attr("y2", function(d) { return y(d); })
        .attr("stroke", gridColor).attr("stroke-width", 1.2);

    // data
    var line = d3.line()
        .defined(function(d) { return d[1] !== null; })
        .x(function(d) { return x(toDate(d[0])); })
        .y(function(d) { return y(d[1]); })
        .curve(p.curve);

    g.append("path")
        .datum(p.data)
        .attr("clip-path", "url(#clip" + i + ")")
        .attr("fill", "none")
        .attr("stroke", lineColor)
        .attr("stroke-width", 1.4)
        .attr("stroke-linejoin", "round")
        .attr("d", line);

    // event markers
    g.selectAll(".red").data(redLines).enter().append("line")
        .attr("x1", function(d) { return x(toDate(d)); })
        .attr("x2", function(d) { return x(toDate(d)); })
        .attr("y1", p.top).attr("y2", p.bottom)
        .attr("stroke", "#ff0000")
        .attr("stroke-width", 1.2)
        .attr("stroke-dasharray", "2,1.5");
    g.selectAll(".green").data(greenLines).enter().append("line")
        .attr("x1", function(d) { return x(toDate(d)); })
        .attr("x2", function(d) { return x(toDate(d)); })
        .attr("y1", p.top).attr("y2", p.bottom)
        .attr("stroke", "#00ff00")
        .attr("stroke-width", 1.4);

    // box
    g.append("rect")
        .attr("x", x0).attr("y", p.top)
        .attr("width", x1 - x0).attr("height", p.bottom - p.top)
        .attr("fill", "none")
        .attr("stroke", axisColor)
        .attr("stroke-width", 1.5);

    // ticks, inward on all four sides
    xTicks.forEach(function(t) {
        var xp = x(t);
        g.append("line").attr("x1", xp).attr("x2", xp)
            .attr("y1", p.bottom).attr("y2", p.bottom - tickLen)
            .attr("stroke", axisColor).attr("stroke-width", 1.5);
        g.append("line").attr("x1", xp).attr("x2", xp)
            .attr("y1", p.top).attr("y2", p.top + tickLen)
            .attr("stroke", axisColor).attr("stroke-width", 1.5);
    });
    p.ticks.forEach(function(t) {
        var yp = y(t);
        g.append("line").attr("x1", x0).attr("x2", x0 + tickLen)
            .attr("y1", yp).attr("y2", yp)
            .attr("stroke", axisColor).attr("stroke-width", 1.5);
        g.append("line").attr("x1", x1).attr("x2", x1 - tickLen)
            .attr("y1", yp).attr("y2", yp)
            .attr("stroke", axisColor).attr("stroke-width", 1.5);
        g.append("text")
            .attr("x", x0 - 11).attr("y", yp)
            .attr("dy", "0.35em")
            .attr("text-anchor", "end")
            .attr("font-size", tickFont)
            .text(t);
    });

    // y label
    g.append("text")
        .attr("transform", "translate(44," + ((p.top + p.bottom) / 2) + ") rotate(-90)")
        .attr("dy", "0.35em")
        .attr("text-anchor", "middle")
        .attr("font-size", labelFont)
        .text(p.label);

    if (i === panels.length - 1) {
        g.selectAll(".xlab").data(xTicks).enter().append("text")
            .attr("x", function(d) { return x(d); })
            .attr("y", p.bottom + 36)
            .attr("text-anchor", "middle")
            .attr("font-size", tickFont)
            .text(function(d) { return fmt(d); });
    }
});

var midX = 572;
svg.append("text").attr("x", midX).attr("y", 35)
    .attr("text-anchor", "middle").attr("font-size", 27).attr("font-weight", "bold")
    .text("Harlingen");
svg.append("text").attr("x", midX).attr("y", 413)
    .attr("text-anchor", "middle").attr("font-size", 27).attr("font-weight", "bold")
    .text("Leeuwarden");
svg.append("text").attr("x", midX).attr("y", 834)
    .attr("text-anchor", "middle").attr("font-size", labelFont)
    .text("Time [2016]");
</script>
</body>
</html>
